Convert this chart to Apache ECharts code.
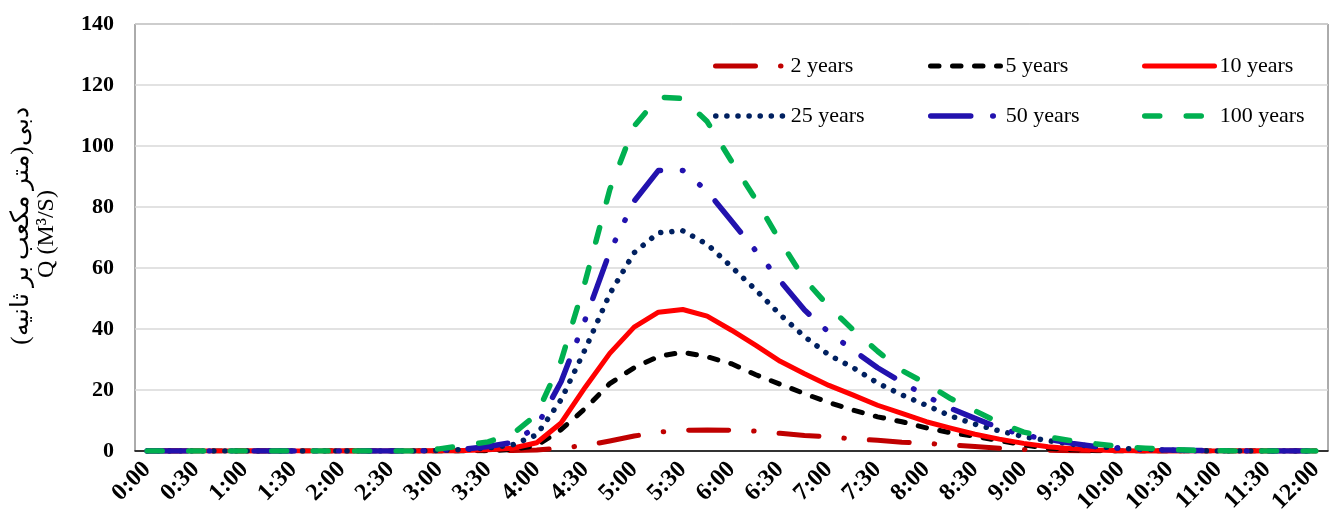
<!DOCTYPE html>
<html>
<head>
<meta charset="utf-8">
<script src="https://cdn.jsdelivr.net/npm/echarts@6/dist/echarts.min.js"></script>
<style>
html,body{margin:0;padding:0;background:#fff;}
#chart{width:1335px;height:519px;}
</style>
</head>
<body>
<div id="chart"></div>
<script>
const categories = [
 '0:00','0:15','0:30','0:45','1:00','1:15','1:30','1:45','2:00','2:15','2:30','2:45',
 '3:00','3:15','3:30','3:45','4:00','4:15','4:30','4:45','5:00','5:15','5:30','5:45',
 '6:00','6:15','6:30','6:45','7:00','7:15','7:30','7:45','8:00','8:15','8:30','8:45',
 '9:00','9:15','9:30','9:45','10:00','10:15','10:30','10:45','11:00','11:15','11:30','11:45','12:00'
];
const yTicks = [0, 20, 40, 60, 80, 100, 120, 140];

const y2 = [0,0,0,0,0,0,0,0,0,0,0,0,
 0,0,0.1,0.2,0.3,1.0,1.8,3.3,4.9,6.2,6.8,6.9,
 6.8,6.5,5.8,5.1,4.6,4.0,3.5,2.9,2.5,2.0,1.5,0.9,
 0.5,0.3,0.1,0,0,0,0,0,0,0,0,0,0];
const y5 = [0,0,0,0,0,0,0,0,0,0,0,0,
 0,0,0.1,0.5,1.8,7.0,14.0,22.1,27.3,31.0,32.4,30.9,
 28.6,25.0,21.9,18.8,15.9,13.4,11.2,9.6,7.6,6.0,4.8,3.4,
 2.0,0.9,0.4,0.1,0,0,0,0,0,0,0,0,0];
const y10 = [0,0,0,0,0,0,0,0,0,0,0,0,
 0.1,0.2,0.4,0.9,2.7,9.2,21.0,32.0,40.6,45.5,46.4,44.2,
 39.6,34.6,29.4,25.3,21.5,18.3,15.0,12.3,9.6,7.5,5.5,3.9,
 2.5,1.4,0.7,0.3,0.1,0,0,0,0,0,0,0,0];
const y25 = [0,0,0,0,0,0,0,0,0,0,0,0,
 0.2,0.5,1.0,2.0,5.3,16.8,33.5,51.5,65.0,71.6,72.2,67.8,
 60.4,52.8,44.7,37.5,31.5,27.3,22.3,18.4,15.0,11.5,8.8,6.6,
 4.7,3.4,2.2,1.4,0.9,0.5,0.3,0.1,0,0,0,0,0];
const y50 = [0,0,0,0,0,0,0,0,0,0,0,0,
 0.3,0.6,1.5,2.8,8.0,22.7,43.3,65.3,81.9,92.0,92.0,85.2,
 75.4,65.6,55.8,46.2,38.9,33.0,27.3,22.5,18.0,14.0,10.7,7.6,
 5.2,3.8,2.5,1.4,0.9,0.5,0.3,0.2,0.1,0,0,0,0];
const y100 = [0,0,0,0,0,0,0,0,0,0,0,0,
 0.7,1.8,3.0,5.5,12.0,29.5,55.8,85.7,106.5,116.0,115.6,108.0,
 95.0,82.4,68.8,56.3,47.3,39.7,32.7,26.4,22.1,17.2,13.2,9.2,
 6.2,4.6,3.3,2.3,1.4,0.9,0.5,0.2,0.1,0,0,0,0];

const names = ['2 years','5 years','10 years','25 years','50 years','100 years'];
const colors = ['#C00000', '#000000', '#FF0000', '#002060', '#2212AE', '#00B050'];
const widths = [5, 5, 5, 5.5, 5.5, 5.5];
const dashes = [[40, 25, 0.5, 25], [8.5, 13.5], 'solid', [0.1, 11], [40, 22, 0.5, 22, 0.5, 22], [15, 26.5]];
const seriesData = [y2, y5, y10, y25, y50, y100];

const serif = '"Times New Roman","Liberation Serif","DejaVu Serif",serif';

const series = names.map((n, i) => ({
  name: n, type: 'line', data: seriesData[i], symbol: 'none', smooth: false,
  lineStyle: { color: colors[i], width: widths[i], type: dashes[i], cap: 'round', join: 'round' },
  itemStyle: { color: colors[i] },
  z: 3
}));

const legendPos = [[713, 54], [928, 54], [1142, 54], [713, 104], [928, 104], [1142, 104]];
const legends = names.map((n, i) => ({
  data: [n], left: legendPos[i][0], top: legendPos[i][1],
  itemWidth: 70, itemHeight: 24, padding: 0,
  itemStyle: { opacity: 0, borderWidth: 0 },
  lineStyle: { color: colors[i], width: widths[i], type: dashes[i], cap: 'round', opacity: 1 },
  textStyle: { fontFamily: serif, fontSize: 22, color: '#000', lineHeight: 24 },
  selectedMode: false
}));

const chart = echarts.init(document.getElementById('chart'), null, { renderer: 'canvas' });
chart.setOption({
  animation: false,
  backgroundColor: '#fff',
  grid: { left: 135, right: 7, top: 24, bottom: 68, show: true, borderColor: '#595959', borderWidth: 1, backgroundColor: 'transparent' },
  legend: legends,
  xAxis: {
    type: 'category', data: categories, boundaryGap: true,
    axisLine: { show: true, lineStyle: { color: '#000', width: 1.5 } },
    axisTick: { show: false },
    axisLabel: { interval: 1, rotate: 45, margin: 15, fontFamily: serif, fontWeight: 'bold', fontSize: 24, color: '#000' },
    splitLine: { show: false }
  },
  yAxis: {
    type: 'value', min: yTicks[0], max: yTicks[yTicks.length - 1], interval: 20,
    axisLine: { show: false }, axisTick: { show: false },
    axisLabel: { margin: 21, fontFamily: serif, fontWeight: 'bold', fontSize: 22, color: '#000' },
    splitLine: { show: true, lineStyle: { color: '#D9D9D9', width: 1.5 } }
  },
  graphic: [
    { type: 'text', x: 21, y: 226, rotation: Math.PI / 2,
      style: { text: 'دبی(متر مکعب بر ثانیه)', font: '25px ' + serif, fill: '#000', align: 'center', verticalAlign: 'middle' } },
    { type: 'text', x: 47, y: 234, rotation: Math.PI / 2,
      style: { text: 'Q (M³/S)', font: '24px ' + serif, fill: '#000', align: 'center', verticalAlign: 'middle' } }
  ],
  series: series
});
</script>
</body>
</html>
